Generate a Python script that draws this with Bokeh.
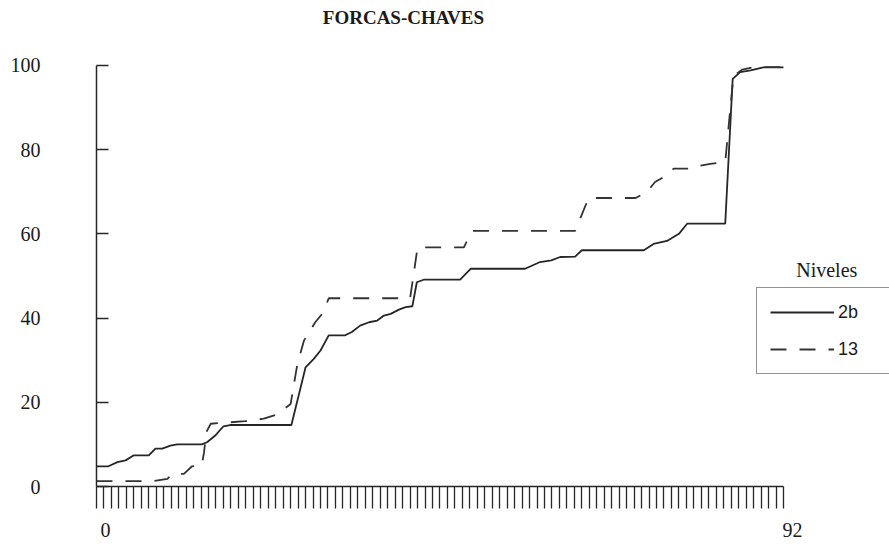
from bokeh.plotting import figure
from bokeh.models import (Range1d, LinearAxis, FixedTicker, CustomJSTickFormatter,
                          Legend, LegendItem, Label)
from bokeh.embed import file_html
from bokeh.resources import INLINE

# Cumulative percentage curves by position (0..92) for each level
x_2b = [0, 1.6, 2.8, 3.9, 5, 7, 7.9, 8.8, 9.9, 10.8, 14.1, 14.8, 15.9, 17, 17.9,
        26.1, 28, 29.1, 30, 31.1, 33.3, 34.2, 35.3, 36.5, 37.6, 38.5, 39.4, 40.5,
        41.4, 42.3, 42.9, 43.8, 48.7, 50.1, 57.4, 59.4, 60.9, 62.1, 64.1, 65,
        73.3, 74.6, 76.4, 78, 79.1, 84.2, 85.2, 86.2, 87.6, 89.3, 92]
y_2b = [4.8, 4.8, 5.8, 6.2, 7.4, 7.4, 9, 9, 9.7, 10, 10, 10.5, 12.1, 14.3, 14.6,
        14.6, 28.3, 30.3, 32.3, 35.9, 35.9, 36.7, 38.2, 39, 39.4, 40.6, 41, 42,
        42.6, 42.8, 48.5, 49.1, 49.1, 51.7, 51.7, 53.3, 53.7, 54.5, 54.6, 56.1,
        56.1, 57.6, 58.3, 60, 62.4, 62.4, 96.8, 98.4, 98.8, 99.5, 99.5]

x_13 = [0, 7.7, 9.5, 10.1, 11.7, 12.8, 14.1, 14.4, 14.7, 15.3, 19.9, 22.4, 24.2,
        26, 26.9, 27.8, 29.3, 30.4, 31.1, 42, 43, 49.2, 50.3, 64.1, 65.9, 72.2,
        73.7, 74.8, 76.4, 77.3, 80, 80.9, 82.2, 84.2, 84.9, 85.3, 86.5, 88, 92]
y_13 = [1.3, 1.3, 1.8, 3, 3, 4.8, 5, 8.1, 12.9, 14.9, 15.5, 16.1, 17.1,
        19.6, 29.1, 34.7, 39, 41.4, 44.7, 44.7, 56.8, 56.8, 60.7, 60.7, 68.5, 68.5,
        69.9, 72.3, 73.9, 75.5, 75.5, 76.2, 76.6, 77, 90.1, 97.5, 99, 99.6, 99.6]

series_names = ["2b", "13"]
y_ticks = [0, 20, 40, 60, 80, 100]
x_first, x_last = 0, 92
title_text = "FORCAS-CHAVES"
legend_title = "Niveles"

INK = "#262626"
SERIF = "Liberation Serif"

p = figure(width=889, height=558, output_backend="svg", toolbar_location=None,
           x_range=Range1d(0, 106.2), y_range=Range1d(0, 115.4),
           x_axis_location=None, y_axis_location=None,
           min_border_left=96, min_border_right=0, min_border_top=0,
           min_border_bottom=72)
p.outline_line_color = None
p.xgrid.visible = False
p.ygrid.visible = False
p.background_fill_color = "white"
p.border_fill_color = "white"

# y axis: inward ticks, labels far to the left
yax = LinearAxis(ticker=FixedTicker(ticks=y_ticks, minor_ticks=[]), bounds=(0, 100))
yax.major_tick_in = 12
yax.major_tick_out = 0
yax.minor_tick_in = 0
yax.minor_tick_out = 0
yax.major_label_standoff = 56
yax.axis_line_color = INK
yax.axis_line_width = 1.5
yax.major_tick_line_color = INK
yax.major_tick_line_width = 1.5
yax.major_label_text_font = SERIF
yax.major_label_text_font_size = "20px"
yax.major_label_text_color = "#1a1a1a"
p.add_layout(yax, "left")

# x axis: a tick for every position
xax = LinearAxis(ticker=FixedTicker(ticks=[], minor_ticks=list(range(x_first, x_last + 1))),
                 bounds=(x_first, x_last))
xax.major_tick_out = 22
xax.major_tick_in = 0
xax.minor_tick_out = 22
xax.minor_tick_in = 0
xax.axis_line_color = INK
xax.axis_line_width = 1.5
xax.minor_tick_line_color = INK
xax.minor_tick_line_width = 1.3
p.add_layout(xax, "below")

# end labels of the x axis, set slightly right of their ticks
shift = 1.2
xlab = LinearAxis(ticker=FixedTicker(ticks=[x_first + shift, x_last + shift], minor_ticks=[]),
                  formatter=CustomJSTickFormatter(args=dict(shift=shift),
                                                  code="return String(Math.round(tick - shift))"))
xlab.axis_line_color = None
xlab.major_tick_line_color = None
xlab.minor_tick_line_color = None
xlab.major_tick_out = 0
xlab.major_label_standoff = 14
xlab.major_label_text_font = SERIF
xlab.major_label_text_font_size = "20px"
xlab.major_label_text_color = "#1a1a1a"
p.add_layout(xlab, "below")

r1 = p.line(x_2b, y_2b, line_color=INK, line_width=1.8)
r2 = p.line(x_13, y_13, line_color="#333333", line_width=1.8, line_dash="16 13")

legend = Legend(items=[LegendItem(label=series_names[0], renderers=[r1]),
                       LegendItem(label=series_names[1], renderers=[r2])],
                location=(660, 112))
legend.border_line_color = INK
legend.border_line_width = 1.2
legend.background_fill_color = "white"
legend.background_fill_alpha = 1
legend.padding = 13
legend.margin = 0
legend.spacing = 15
legend.glyph_width = 64
legend.glyph_height = 22
legend.label_height = 22
legend.label_width = 38
legend.label_standoff = 4
legend.label_text_font = "Liberation Sans"
legend.label_text_font_size = "18px"
legend.label_text_color = "#1a1a1a"
p.add_layout(legend)

p.add_layout(Label(x=97.8, y=51.3, text=legend_title, text_align="center",
                   text_baseline="middle", text_font=SERIF, text_font_size="20px",
                   text_color="#1a1a1a"))
p.add_layout(Label(x=41.1, y=111.4, text=title_text, text_align="center",
                   text_baseline="middle", text_font=SERIF, text_font_size="19px",
                   text_font_style="bold", text_color="#1a1a1a"))

open("out.html", "w").write(file_html(p, INLINE))
